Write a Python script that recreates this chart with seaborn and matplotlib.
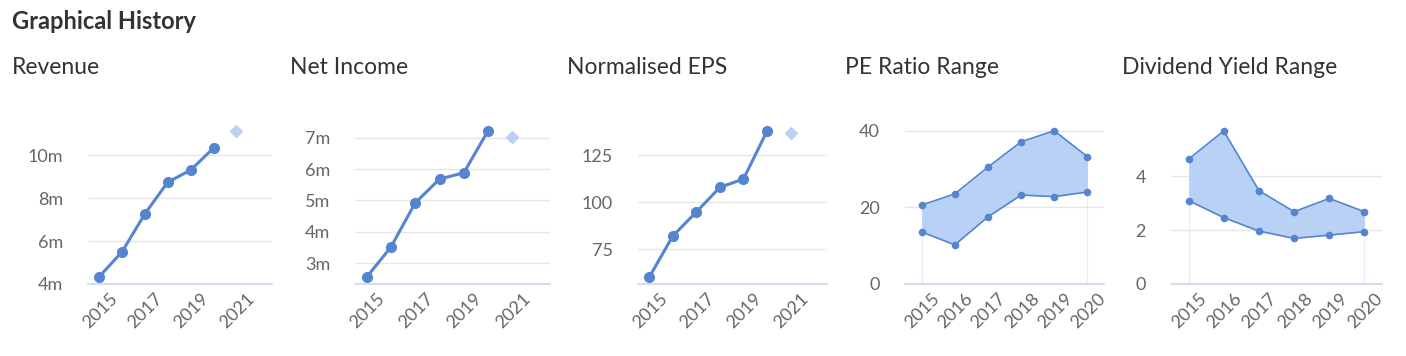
import matplotlib
matplotlib.use("Agg")
import matplotlib.pyplot as plt
import matplotlib.transforms as mtransforms
import seaborn as sns
import pandas as pd

# data ------------------------------------
years = [2015, 2016, 2017, 2018, 2019, 2020]
forecast_year = 2021

revenue = [4.33, 5.49, 7.26, 8.74, 9.30, 10.33]
revenue_fc = 11.12
net_income = [2.55, 3.51, 4.92, 5.68, 5.88, 7.22]
net_income_fc = 7.03
eps = [60.0, 82.0, 94.8, 108.0, 112.4, 138.0]
eps_fc = 136.9

pe_high = [20.6, 23.5, 30.5, 37.1, 40.0, 33.2]
pe_low = [13.6, 10.2, 17.5, 23.2, 22.8, 24.0]
dy_high = [4.63, 5.67, 3.46, 2.68, 3.17, 2.68]
dy_low = [3.09, 2.46, 1.96, 1.69, 1.81, 1.94]

year_labels = ['2015', '2016', '2017', '2018', '2019', '2020']

# style -------------
sns.set_style("white")
plt.rcParams['font.family'] = ['Lato', 'DejaVu Sans']

LINE = '#5584d0'
LIGHT = '#b9d1f4'
GRID = '#e6e6e6'
AXIS = '#ccd6eb'
TICK = '#666666'
TITLE = '#333333'

fig = plt.figure(figsize=(14.06, 3.56), dpi=100)
W, H = 1406, 356
top_px, bot_px = 128, 284


def make_ax(left_px, right_px):
    return fig.add_axes([left_px / W, (H - bot_px) / H,
                         (right_px - left_px) / W, (bot_px - top_px) / H])


def style_ax(ax, yticks, ylabels):
    for s in ['top', 'right', 'left']:
        ax.spines[s].set_visible(False)
    ax.spines['bottom'].set_color(AXIS)
    ax.spines['bottom'].set_linewidth(1.2)
    ax.set_yticks(yticks)
    ax.set_yticklabels(ylabels)
    ax.yaxis.grid(True, color=GRID, linewidth=1.0)
    ax.xaxis.grid(False)
    ax.set_axisbelow(True)
    ax.tick_params(axis='y', length=0, pad=18, labelsize=13, labelcolor=TICK)
    ax.tick_params(axis='x', length=0, pad=0, labelsize=13, labelcolor=TICK)
    off = mtransforms.ScaledTranslation(10 / 100, -6 / 100, fig.dpi_scale_trans)
    for lab in ax.get_xticklabels():
        lab.set_rotation(45)
        lab.set_ha('right')
        lab.set_va('top')
        lab.set_rotation_mode('anchor')
        lab.set_transform(lab.get_transform() + off)
    ax.set_xlabel('')
    ax.set_ylabel('')


def line_panel(left_px, right_px, values, fc, ylim, yticks, ylabels):
    ax = make_ax(left_px, right_px)
    df = pd.DataFrame({'year': years, 'value': values})
    sns.lineplot(data=df, x='year', y='value', ax=ax, color=LINE, linewidth=2.2,
                 marker='o', markersize=8, markeredgewidth=0, clip_on=False)
    ax.plot([forecast_year], [fc], marker='D', markersize=6, color=LIGHT,
            linestyle='none', clip_on=False)
    ax.set_xlim(2014.52, 2022.55)
    ax.set_ylim(*ylim)
    ax.set_xticks([2015, 2017, 2019, 2021])
    ax.set_xticklabels(['2015', '2017', '2019', '2021'])
    style_ax(ax, yticks, ylabels)
    return ax


def range_panel(left_px, right_px, high, low, ylim, yticks, ylabels):
    ax = make_ax(left_px, right_px)
    x = list(range(len(year_labels)))
    ax.fill_between(x, low, high, color=LIGHT, linewidth=0)
    df = pd.DataFrame({'x': x + x, 'v': high + low,
                       'band': ['high'] * len(x) + ['low'] * len(x)})
    sns.lineplot(data=df, x='x', y='v', units='band', estimator=None, ax=ax,
                 color=LINE, linewidth=1.2, marker='o', markersize=5.5,
                 markeredgewidth=0, clip_on=False)
    for xv, lv in ((x[0], low[0]), (x[-1], low[-1])):
        ax.plot([xv, xv], [0, lv], color='#e6ebf5', linewidth=0.8, zorder=0)
    ax.set_xlim(-0.5, len(x) - 0.5)
    ax.set_ylim(*ylim)
    ax.set_xticks(x)
    ax.set_xticklabels(year_labels)
    style_ax(ax, yticks, ylabels)
    return ax


line_panel(88, 272, revenue, revenue_fc, (4, 11.26), [4, 6, 8, 10],
           ['4m', '6m', '8m', '10m'])
line_panel(355, 550, net_income, net_income_fc, (2.33, 7.31), [3, 4, 5, 6, 7],
           ['3m', '4m', '5m', '6m', '7m'])
line_panel(638, 827, eps, eps_fc, (56.3, 139.7), [75, 100, 125],
           ['75', '100', '125'])
range_panel(905, 1104, pe_high, pe_low, (0, 40.7), [0, 20, 40],
            ['0', '20', '40'])
range_panel(1171, 1382, dy_high, dy_low, (0, 5.78), [0, 2, 4],
            ['0', '2', '4'])

# titles
fig.text(12 / W, 1 - 29 / H, 'Graphical History', fontsize=17,
         fontweight='bold', color=TITLE, va='baseline', ha='left')
for xpx, t in [(12, 'Revenue'), (290, 'Net Income'), (567, 'Normalised EPS'),
               (845, 'PE Ratio Range'), (1122, 'Dividend Yield Range')]:
    fig.text(xpx / W, 1 - 74 / H, t, fontsize=16.5, color=TITLE,
             va='baseline', ha='left')

fig.savefig('out.png', dpi=100, facecolor='white')
